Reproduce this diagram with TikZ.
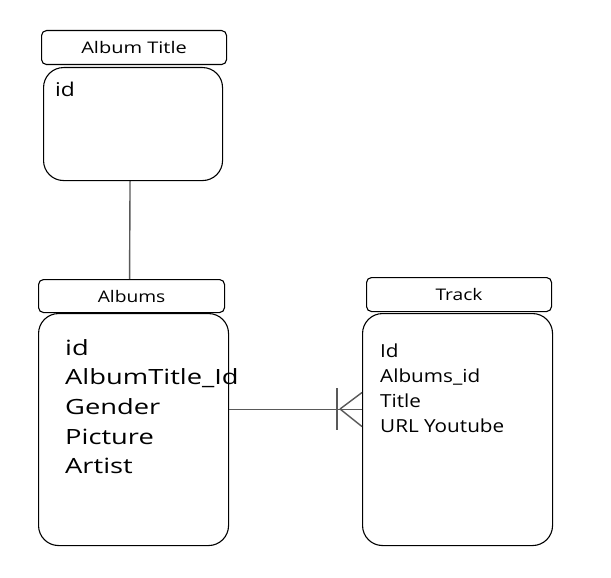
\documentclass[tikz,border=0pt]{standalone}
\usepackage{fontspec}
\setmainfont{Open Sans}
\newcommand\widetxt[2]{\scalebox{#1}[1]{#2}}
\begin{document}
\begin{tikzpicture}[x=1pt,y=-1pt,
  headbox/.style={draw=black, line width=1.1pt, rounded corners=5pt, anchor=north west, inner sep=0pt, font=\fontsize{16}{18}\selectfont},
  bodybox/.style={draw=black, line width=1.1pt, rounded corners=20pt, anchor=north west, inner sep=0pt},
  fieldtext/.style={anchor=north west, align=left, inner sep=0pt},
  link/.style={draw=black!65, line width=1.4pt}]
\useasboundingbox[fill=white] (0,0) rectangle (611,578);
% Album Title
\node[headbox, minimum width=185pt, minimum height=34pt] (athead) at (41,30) {\widetxt{1.25}{Album Title}};
\node[bodybox, minimum width=179pt, minimum height=113pt] (atbody) at (43,67) {};
\node[fieldtext, font=\fontsize{19}{25}\selectfont] (atfields) at (55,82) {\widetxt{1.2}{id}};
% Albums
\node[headbox, minimum width=186pt, minimum height=33pt] (alhead) at (38,279) {\widetxt{1.2}{Albums}};
\node[bodybox, minimum width=190pt, minimum height=232pt] (albody) at (38,313) {};
\node[fieldtext, font=\fontsize{21}{29.7}\selectfont] (alfields) at (65,339) {\widetxt{1.3}{id}\\\widetxt{1.3}{AlbumTitle\_Id}\\\widetxt{1.3}{Gender}\\\widetxt{1.3}{Picture}\\\widetxt{1.3}{Artist}};
% Track
\node[headbox, minimum width=185pt, minimum height=34pt] (trhead) at (366,277) {\widetxt{1.2}{Track}};
\node[bodybox, minimum width=190pt, minimum height=232pt] (trbody) at (362,313) {};
\node[fieldtext, font=\fontsize{18}{25}\selectfont] (trfields) at (380,344) {\widetxt{1.15}{Id}\\\widetxt{1.15}{Albums\_id}\\\widetxt{1.15}{Title}\\\widetxt{1.15}{URL Youtube}};
% connectors
\draw[link] ([xshift=-3pt]atbody.south) -- ([xshift=-2pt]alhead.north);
\draw[link] ([yshift=20pt]albody.east) -- ([yshift=20pt]trbody.west);
\coordinate (foot) at (340,409);
\draw[link] (337,388) -- (337,430);
\draw[link] (foot) -- ([yshift=37pt]trbody.west);
\draw[link] (foot) -- ([yshift=3pt]trbody.west);
\end{tikzpicture}
\end{document}
